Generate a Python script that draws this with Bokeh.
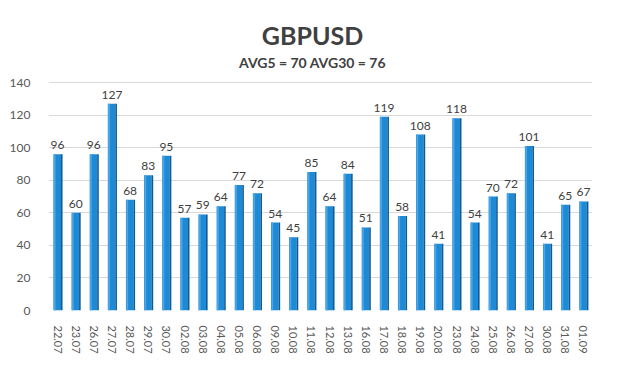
from bokeh.plotting import figure
from bokeh.models import ColumnDataSource, FixedTicker, LabelSet
from bokeh.core.properties import value
from bokeh.transform import dodge
from bokeh.embed import file_html
from bokeh.resources import INLINE

dates = ["22.07", "23.07", "26.07", "27.07", "28.07", "29.07", "30.07", "02.08", "03.08", "04.08",
         "05.08", "06.08", "09.08", "10.08", "11.08", "12.08", "13.08", "16.08", "17.08", "18.08",
         "19.08", "20.08", "23.08", "24.08", "25.08", "26.08", "27.08", "30.08", "31.08", "01.09"]
values = [96, 60, 96, 127, 68, 83, 95, 57, 59, 64,
          77, 72, 54, 45, 85, 64, 84, 51, 119, 58,
          108, 41, 118, 54, 70, 72, 101, 41, 65, 67]
y_ticks = [0, 20, 40, 60, 80, 100, 120, 140]
title_text = "GBPUSD"
subtitle_text = "AVG5 = 70 AVG30 = 76"

FONT = "Lato"
W, H = 604, 371
LEFT, RIGHT, BOTTOM = 48, 12, 61
Y_MAX = 140
PLOT_PX = 228                      # pixel height of 0..140
frame_h = H - BOTTOM               # frame spans to top of canvas
px_per_unit = PLOT_PX / Y_MAX
y_end = frame_h / px_per_unit      # extra headroom holds the titles
frame_w = W - LEFT - RIGHT
px_per_cat = frame_w / len(dates)


def y_at(px_from_top):
    return (frame_h - px_from_top) / px_per_unit


src = ColumnDataSource(dict(x=dates, y=values, lbl=[str(v) for v in values]))

p = figure(width=W, height=H, x_range=dates, y_range=(0, y_end),
           output_backend="svg", toolbar_location=None,
           min_border_left=LEFT, min_border_right=RIGHT, min_border_top=0, min_border_bottom=BOTTOM)

cx = (312 - LEFT) / px_per_cat
p.text(x=[cx], y=[y_at(34)], text=[title_text], text_align="center", text_baseline="middle",
       text_font=value(FONT), text_font_size="25px", text_font_style="bold", text_color="#404040")
p.text(x=[cx], y=[y_at(62)], text=[subtitle_text], text_align="center", text_baseline="middle",
       text_font=value(FONT), text_font_size="14px", text_font_style="bold", text_color="#404040")

# bar body, light highlight, dark side
p.vbar(x=dodge("x", -0.02, range=p.x_range), top="y", width=0.42, fill_color="#1e8ad6", line_color=None, source=src)
p.vbar(x=dodge("x", -0.16, range=p.x_range), top="y", width=0.1, fill_color="#4aa6e6", line_color=None, source=src)
p.vbar(x=dodge("x", 0.23, range=p.x_range), top="y", width=0.09, fill_color="#0f5c96", line_color=None, source=src)

labels = LabelSet(x="x", y="y", text="lbl", source=src, x_offset=0, y_offset=5,
                  text_align="center", text_baseline="bottom", text_font=value(FONT),
                  text_font_size="12px", text_color="#404040")
p.add_layout(labels)

p.outline_line_color = None
p.xgrid.grid_line_color = None
p.ygrid.grid_line_color = "#d9d9d9"
p.ygrid.grid_line_width = 1
p.yaxis.ticker = FixedTicker(ticks=y_ticks)
for ax in (p.xaxis, p.yaxis):
    ax.axis_line_color = None
    ax.major_tick_line_color = None
    ax.minor_tick_line_color = None
    ax.major_label_text_font = FONT
    ax.major_label_text_color = "#595959"
p.yaxis.major_label_text_font_size = "12px"
p.yaxis.major_label_standoff = 12
p.xaxis.major_label_text_font_size = "11px"
p.xaxis.major_label_orientation = "vertical"
p.xaxis.major_label_standoff = 9
p.x_range.range_padding = 0

open("out.html", "w").write(file_html(p, INLINE))
